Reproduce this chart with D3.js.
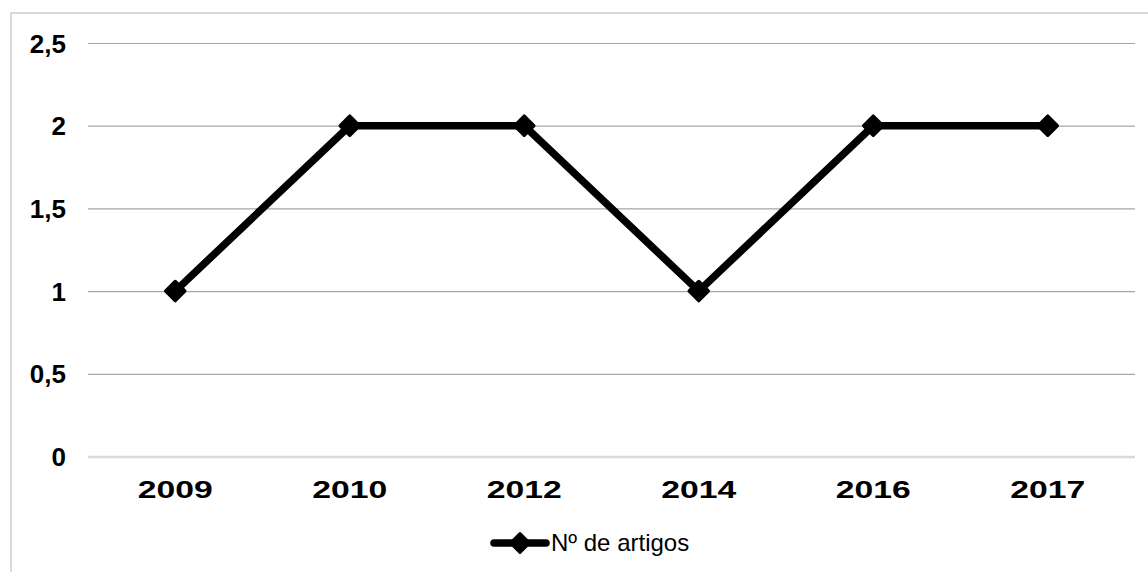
<!DOCTYPE html>
<html><head><meta charset="utf-8">
<script src="https://cdn.jsdelivr.net/npm/d3@7"></script>
<style>html,body{margin:0;padding:0;background:#fff;}svg{display:block;}</style>
</head><body>
<svg id="c" width="1148" height="572"></svg>
<script>
const categories = ["2009","2010","2012","2014","2016","2017"];
const values = [1,2,2,1,2,2];
const yTicks = [0,0.5,1,1.5,2,2.5];
const yTickLabels = ["0","0,5","1","1,5","2","2,5"];
const seriesName = "Nº de artigos";

const svg = d3.select("#c");
const W = 1148, H = 572;
const m = {left:88, right:1135, top:43, bottom:456.5};

// outer border (top + left visible)
svg.append("path").attr("d", `M11,${H+5} L11,13 L${W+5},13`)
  .attr("fill","none").attr("stroke","#d9d9d9").attr("stroke-width",2);

const x = d3.scaleBand().domain(categories).range([m.left,m.right]).padding(0);
const y = d3.scaleLinear().domain([0,2.5]).range([m.bottom,m.top]);

// gridlines
const yAxis = d3.axisLeft(y).tickValues(yTicks).tickSize(-(m.right-m.left))
  .tickFormat((d,i)=>yTickLabels[i]).tickPadding(22);
const gy = svg.append("g").attr("transform",`translate(${m.left},0)`).call(yAxis);
gy.select(".domain").remove();
gy.selectAll(".tick line").attr("stroke",d=>d===0?"#d9d9d9":"#a6a6a6")
  .attr("stroke-width",d=>d===0?2.5:1.2);
gy.selectAll(".tick text").attr("font-family","'Liberation Sans',Arial,sans-serif")
  .attr("font-size",26).attr("font-weight","bold").attr("fill","#000").attr("dy","0.35em");

// x labels
const xAxis = d3.axisBottom(x).tickSize(0).tickPadding(0);
const gx = svg.append("g").attr("transform",`translate(0,${m.bottom})`).call(xAxis);
gx.select(".domain").remove();
gx.selectAll(".tick text").attr("font-family","'Liberation Sans',Arial,sans-serif")
  .attr("font-size",23).attr("font-weight","bold").attr("fill","#000")
  .attr("y",41.5).attr("dy",0)
  .attr("textLength",75).attr("lengthAdjust","spacingAndGlyphs");

// line
const pts = categories.map((c,i)=>[x(c)+x.bandwidth()/2, y(values[i])]);
svg.append("path").datum(pts).attr("d", d3.line())
  .attr("fill","none").attr("stroke","#000").attr("stroke-width",7.5)
  .attr("stroke-linejoin","round");

const diamond = (cx,cy,r)=>`M${cx},${cy-r}L${cx+r},${cy}L${cx},${cy+r}L${cx-r},${cy}Z`;
svg.append("g").selectAll("path").data(pts).join("path")
  .attr("d",d=>diamond(d[0],d[1],9.5))
  .attr("fill","#000").attr("stroke","#000").attr("stroke-width",3.5).attr("stroke-linejoin","round");

// legend
const ly = 543;
svg.append("line").attr("x1",494).attr("x2",546).attr("y1",ly).attr("y2",ly)
  .attr("stroke","#000").attr("stroke-width",7.5).attr("stroke-linecap","round");
svg.append("path").attr("d",diamond(520,ly,9.5)).attr("fill","#000")
  .attr("stroke","#000").attr("stroke-width",3).attr("stroke-linejoin","round");
svg.append("text").attr("x",551).attr("y",551)
  .attr("font-family","'Liberation Sans',Arial,sans-serif").attr("font-size",24)
  .attr("fill","#000").text(seriesName);
</script>
</body></html>
